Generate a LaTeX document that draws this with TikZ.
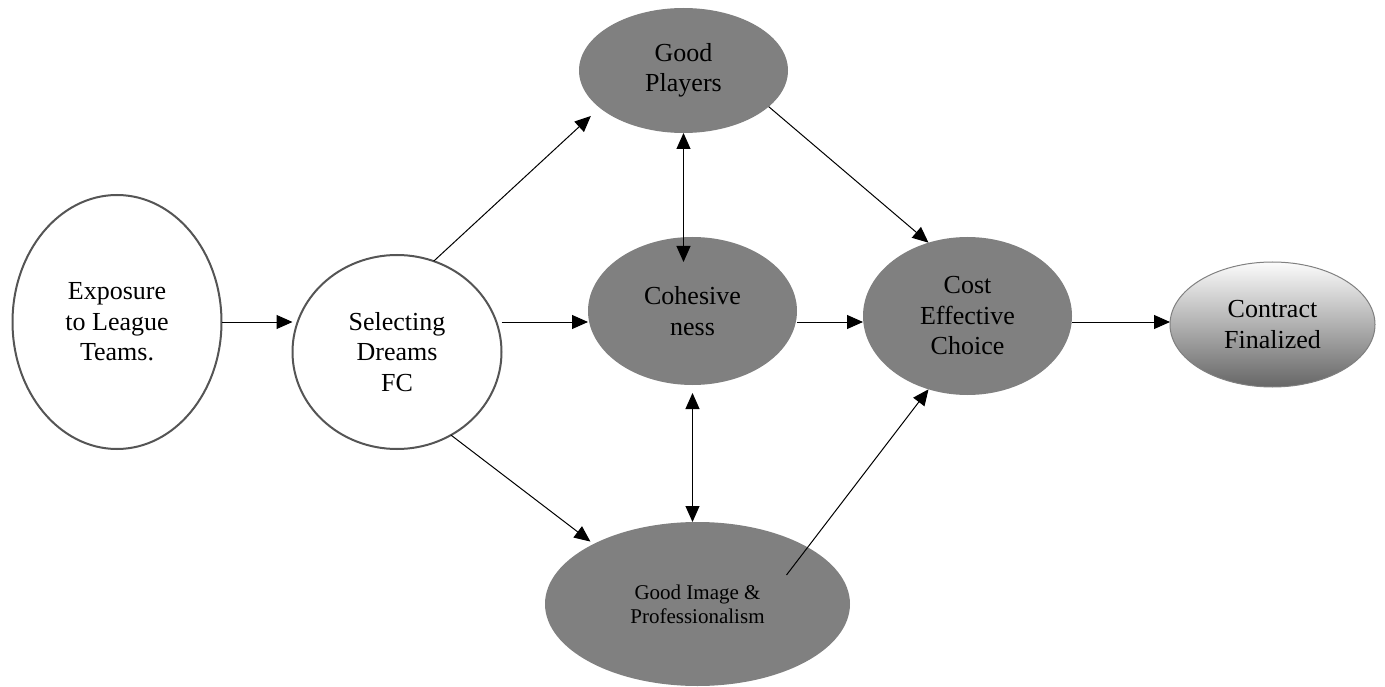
\documentclass[tikz,border=0pt]{standalone}
\usepackage{fontspec}
\setmainfont{Liberation Serif}
\usetikzlibrary{shapes.geometric,arrows.meta}
\definecolor{rim}{HTML}{555555}
\begin{document}
\begin{tikzpicture}[
    x=1pt, y=-1pt,
    >={Triangle[length=16pt,width=14pt]},
    bubble/.style={ellipse, inner sep=0pt, outer sep=0pt, align=center, font=\fontsize{26}{30.5}\selectfont},
    plain/.style={bubble, draw=rim, line width=2pt, fill=white},
    dark/.style={bubble, fill=gray},
    final/.style={bubble, draw=gray, line width=1pt, top color=gray!3, middle color=gray!35, bottom color=gray!80!black},
    conn/.style={draw=black, line width=1pt, ->}
  ]
  \useasboundingbox (0,0) rectangle (1385,687);
  \node[plain, minimum width=209pt, minimum height=254pt] (expo) at (117,322) {Exposure\\to League\\Teams.};
  \node[plain, minimum width=209pt, minimum height=194pt] (sel) at (397,352) {Selecting\\Dreams\\FC};
  \node[dark, minimum width=209pt, minimum height=125pt] (players) at (683.5,70.5) {Good\\Players};
  \node[dark, minimum width=209pt, minimum height=148pt] (cohes) at (692.5,311) {Cohesive\\ness};
  \node[dark, minimum width=209pt, minimum height=158pt] (cost) at (967.5,316) {Cost\\Effective\\Choice};
  \node[final, minimum width=205pt, minimum height=125pt] (contract) at (1272.5,324.5) {Contract\\Finalized};
  \node[dark, minimum width=305pt, minimum height=164pt, font=\fontsize{21}{24}\selectfont] (image) at (697.5,604) {Good Image \&\\Professionalism};
  \coordinate (axis) at (0,322);
  \coordinate (imgtail) at ([shift={(89,-29)}]image.center);
  % main line
  \draw[conn] (expo.east) -- (sel.west |- axis);
  \draw[conn] (sel.east |- axis) -- (cohes.west |- axis);
  \draw[conn] (cohes.east |- axis) -- (cost.west |- axis);
  \draw[conn] (cost.east |- axis) -- (contract.west |- axis);
  % branches
  \draw[conn, shorten >=12pt] (sel.68) -- (players.204);
  \draw[conn, shorten >=4pt] (sel.-57) -- (image.150);
  \draw[conn, <->] (players.south) -- ([yshift=-25pt]cohes.north -| players.south);
  \draw[conn, <->, shorten <=8pt] (cohes.south) -- (cohes.south |- image.north);
  \draw[conn] (players.-23) -- (cost.118);
  \draw[conn] (imgtail) -- (cost.242);
\end{tikzpicture}
\end{document}
